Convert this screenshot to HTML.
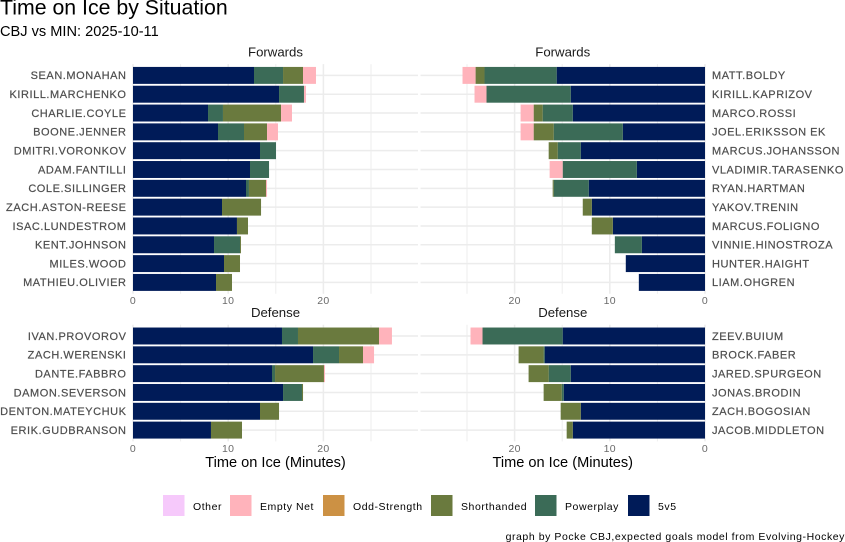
<!DOCTYPE html>
<html>
<head>
<meta charset="utf-8">
<title>Time on Ice by Situation</title>
<style>
html,body{margin:0;padding:0;background:#fff;}
svg{display:block;font-family:"Liberation Sans",Arial,sans-serif;}
</style>
</head>
<body>
<svg id="chart" width="845" height="542" viewBox="0 0 845 542" xmlns="http://www.w3.org/2000/svg">
<rect x="0" y="0" width="845" height="542" fill="#ffffff"/>
<text x="0" y="14.5" font-size="21.3" fill="#000">Time on Ice by Situation</text>
<text x="0" y="36" font-size="14.6" fill="#000">CBJ vs MIN: 2025-10-11</text>
<g id="panels"></g>
<g id="legend"></g>
<text x="845" y="540" text-anchor="end" font-size="10.5" letter-spacing="0.56" fill="#000">graph by Pocke CBJ,expected goals model from Evolving-Hockey</text>
</svg>
<script>
// Categories
const cbjForwards = ["SEAN.MONAHAN","KIRILL.MARCHENKO","CHARLIE.COYLE","BOONE.JENNER","DMITRI.VORONKOV","ADAM.FANTILLI","COLE.SILLINGER","ZACH.ASTON-REESE","ISAC.LUNDESTROM","KENT.JOHNSON","MILES.WOOD","MATHIEU.OLIVIER"];
const minForwards = ["MATT.BOLDY","KIRILL.KAPRIZOV","MARCO.ROSSI","JOEL.ERIKSSON EK","MARCUS.JOHANSSON","VLADIMIR.TARASENKO","RYAN.HARTMAN","YAKOV.TRENIN","MARCUS.FOLIGNO","VINNIE.HINOSTROZA","HUNTER.HAIGHT","LIAM.OHGREN"];
const cbjDefense = ["IVAN.PROVOROV","ZACH.WERENSKI","DANTE.FABBRO","DAMON.SEVERSON","DENTON.MATEYCHUK","ERIK.GUDBRANSON"];
const minDefense = ["ZEEV.BUIUM","BROCK.FABER","JARED.SPURGEON","JONAS.BRODIN","ZACH.BOGOSIAN","JACOB.MIDDLETON"];

// Series order, nearest the axis first
const seriesNames = ["5v5","Powerplay","Shorthanded","Odd-Strength","Empty Net","Other"];
const legendOrder = ["Other","Empty Net","Odd-Strength","Shorthanded","Powerplay","5v5"];
const seriesColors = ["#001b58","#3b6b57","#6a7a3e","#cc9144","#ffb3bb","#f6c9fb"];

// Minutes per situation, one array per series
const cbjF5v5 = [12.71,15.34,7.88,8.93,13.34,12.29,11.87,9.35,10.92,8.51,9.56,8.72];
const cbjFPP = [3.05,2.62,1.57,2.73,1.68,2.00,0.31,0,0,2.73,0,0];
const cbjFSH = [2.10,0,6.10,2.42,0,0,1.79,4.10,1.16,0.10,1.68,1.68];
const cbjFOdd = [0,0,0,0,0,0,0,0,0,0,0,0];
const cbjFEN = [1.36,0.21,1.15,1.15,0,0,0.11,0,0,0,0,0];
const cbjFOther = [0,0,0,0,0,0,0,0,0,0,0,0];

const minF5v5 = [15.58,14.10,13.89,8.63,13.05,7.16,12.21,11.89,9.68,6.63,8.32,6.95];
const minFPP = [7.58,8.85,3.16,7.26,2.42,7.79,3.68,0,0,2.84,0,0];
const minFSH = [0.94,0,0.95,2.11,0.95,0,0.11,0.95,2.21,0,0,0];
const minFOdd = [0,0,0,0,0,0,0,0,0,0,0,0];
const minFEN = [1.37,1.26,1.37,1.37,0,1.37,0,0,0,0,0,0];
const minFOther = [0,0,0,0,0,0,0,0,0,0,0,0];

const cbjD5v5 = [15.65,18.91,14.60,15.76,13.34,8.19];
const cbjDPP = [1.68,2.73,0.32,1.99,0,0];
const cbjDSH = [8.51,2.52,5.14,0.11,2.00,3.26];
const cbjDOdd = [0,0,0,0,0,0];
const cbjDEN = [1.36,1.16,0.11,0,0,0];
const cbjDOther = [0,0,0,0,0,0];

const minD5v5 = [14.95,16.84,14.10,14.84,13.05,13.89];
const minDPP = [8.42,0.11,2.32,0.21,0,0];
const minDSH = [0,2.63,2.11,1.90,2.11,0.64];
const minDOdd = [0,0,0,0,0,0];
const minDEN = [1.26,0,0,0,0,0];
const minDOther = [0,0,0,0,0,0];

// Axis ticks
const majorTicks = [0,10,20];
const minorTicks = [5,15,25];

const NS = "http://www.w3.org/2000/svg";
const panelsRoot = document.getElementById("panels");
const legendRoot = document.getElementById("legend");
const PX_PER_MIN = 9.52;
const ROW_STEP = 18.82;
const BAR_H = 16.95;

function svgEl(tag, attrs, parent) {
  const el = document.createElementNS(NS, tag);
  for (const k in attrs) el.setAttribute(k, attrs[k]);
  parent.appendChild(el);
  return el;
}

function drawPanel(cfg) {
  const g = svgEl("g", {}, panelsRoot);
  
  

  const xScale = function (v) { return cfg.mirror ? cfg.zeroX - v * PX_PER_MIN : cfg.zeroX + v * PX_PER_MIN; };
  const yScale = function (i) { return cfg.firstY + i * cfg.step; };
  const left = cfg.mirror ? cfg.zeroX - 284.5 : cfg.zeroX;
  const right = cfg.mirror ? cfg.zeroX : cfg.zeroX + 285;
  const top = yScale(0) - cfg.step * 0.6;
  const bottom = yScale(cfg.players.length - 1) + cfg.step * 0.6;
  const centre = (left + right) / 2;

  minorTicks.forEach(function (t) {
    const line = svgEl("line", {x1: xScale(t), x2: xScale(t), y1: top, y2: bottom, stroke: "#eeeeee", "stroke-width": 1}, g);
    
    
  });
  majorTicks.forEach(function (t) {
    const line = svgEl("line", {x1: xScale(t), x2: xScale(t), y1: top, y2: bottom, stroke: "#ececec", "stroke-width": 1.5}, g);
    
    
  });
  cfg.players.forEach(function (p, i) {
    const line = svgEl("line", {x1: left, x2: right, y1: yScale(i), y2: yScale(i), stroke: "#ececec", "stroke-width": 1.5}, g);
    
    
  });

  cfg.players.forEach(function (player, i) {
    let cum = 0;
    cfg.series.forEach(function (values, s) {
      const v = values[i];
      if (v > 0) {
        const a = xScale(cum);
        const b = xScale(cum + v);
        const bar = svgEl("rect", {x: Math.min(a, b), y: yScale(i) - BAR_H / 2, width: Math.abs(b - a), height: BAR_H, fill: seriesColors[s]}, g);
        
        
        cum += v;
      }
    });
    const label = svgEl("text", {
      x: cfg.mirror ? cfg.zeroX + 7 : cfg.zeroX - 6.5,
      y: yScale(i) + 3.8,
      "text-anchor": cfg.mirror ? "start" : "end",
      "font-size": 11,
      "letter-spacing": 0.55,
      fill: "#4d4d4d",
      stroke: "#4d4d4d",
      "stroke-width": 0.2
    }, g);
    label.textContent = player;
    
    
  });

  majorTicks.forEach(function (t) {
    const tick = svgEl("text", {x: xScale(t), y: bottom + 10.5, "text-anchor": "middle", "font-size": 10.5, "letter-spacing": 0.3, fill: "#6a6a6a"}, g);
    tick.textContent = String(t);
    
    
  });

  const strip = svgEl("text", {x: centre, y: top - 7.5, "text-anchor": "middle", "font-size": 13.2, fill: "#1a1a1a"}, g);
  strip.textContent = cfg.title;
  
  

  if (cfg.axisTitle) {
    const at = svgEl("text", {x: centre, y: bottom + 25.5, "text-anchor": "middle", "font-size": 14.6, fill: "#000"}, g);
    at.textContent = cfg.axisTitle;
    
    
  }
}

drawPanel({name: "panel-cbj-forwards", title: "Forwards", players: cbjForwards, zeroX: 133, mirror: false, firstY: 75.4, step: ROW_STEP,
  series: [cbjF5v5, cbjFPP, cbjFSH, cbjFOdd, cbjFEN, cbjFOther]});
drawPanel({name: "panel-min-forwards", title: "Forwards", players: minForwards, zeroX: 705, mirror: true, firstY: 75.4, step: ROW_STEP,
  series: [minF5v5, minFPP, minFSH, minFOdd, minFEN, minFOther]});
drawPanel({name: "panel-cbj-defense", title: "Defense", players: cbjDefense, zeroX: 133, mirror: false, firstY: 336, step: ROW_STEP, axisTitle: "Time on Ice (Minutes)",
  series: [cbjD5v5, cbjDPP, cbjDSH, cbjDOdd, cbjDEN, cbjDOther]});
drawPanel({name: "panel-min-defense", title: "Defense", players: minDefense, zeroX: 705, mirror: true, firstY: 336, step: ROW_STEP, axisTitle: "Time on Ice (Minutes)",
  series: [minD5v5, minDPP, minDSH, minDOdd, minDEN, minDOther]});

const legendX = [163, 230, 323, 431, 535, 628];
legendOrder.forEach(function (name, i) {
  const entry = svgEl("g", {}, legendRoot);
  
  
  const swatch = svgEl("rect", {x: legendX[i], y: 495, width: 21.5, height: 21, fill: seriesColors[seriesNames.indexOf(name)]}, entry);
  
  
  const label = svgEl("text", {x: legendX[i] + 30, y: 510, "font-size": 10.5, "letter-spacing": 0.55, fill: "#000"}, entry);
  label.textContent = name;
  
  
});
</script>
</body>
</html>
